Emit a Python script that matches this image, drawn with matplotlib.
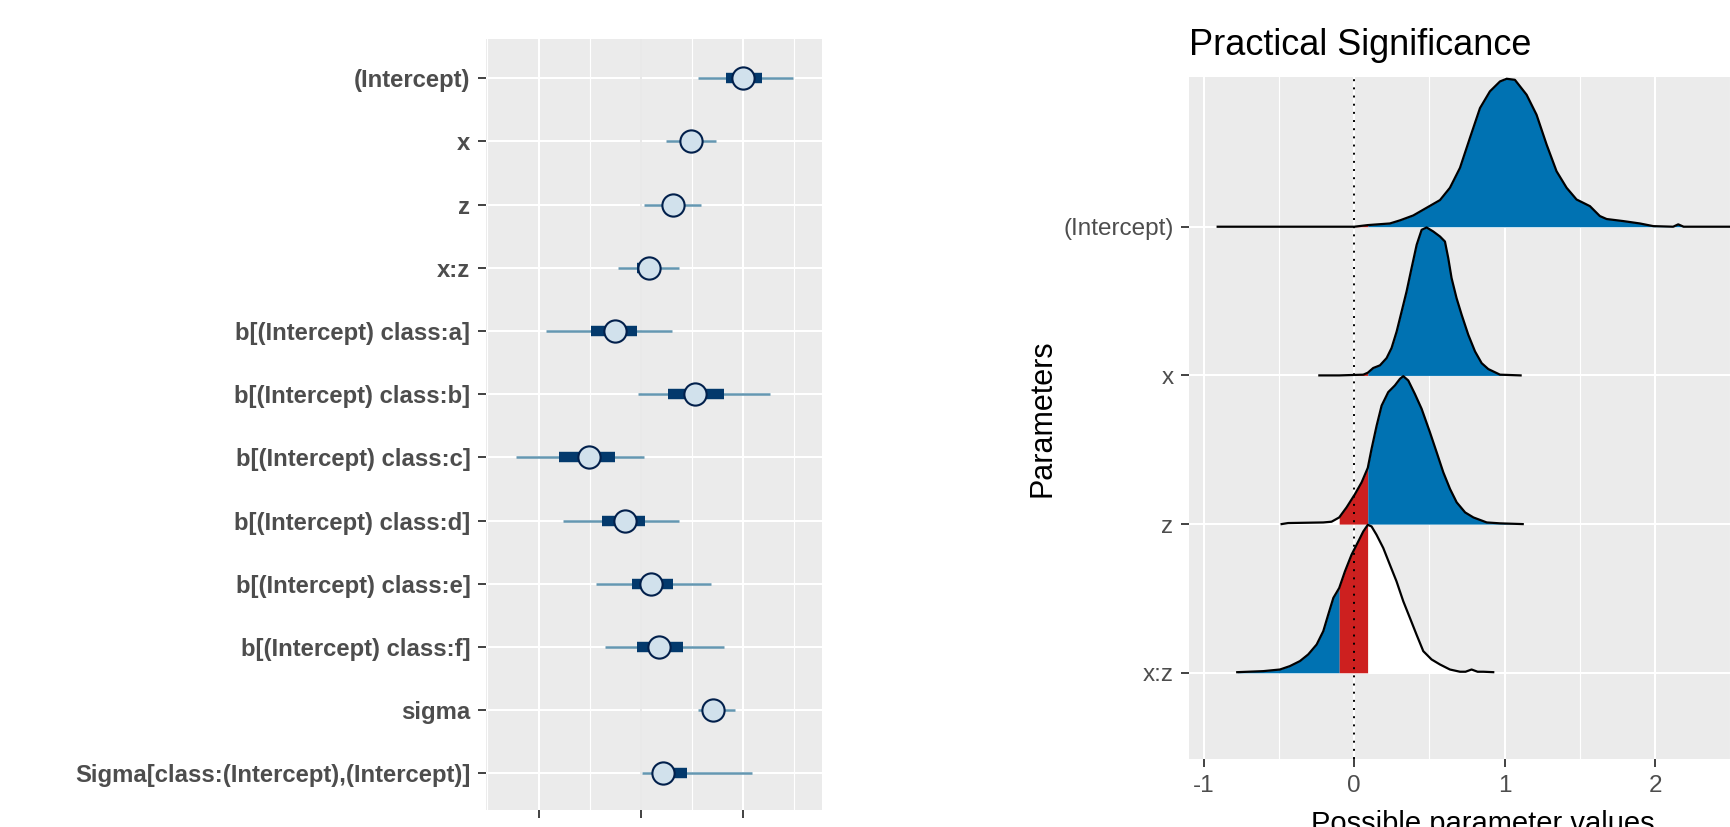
import numpy as np
import matplotlib
matplotlib.use("Agg")
import matplotlib.pyplot as plt

plt.rcParams['font.family'] = ['Liberation Sans', 'DejaVu Sans']

# ---- left panel: posterior intervals (rstanarm / bayesplot style) ----
params = ['(Intercept)', 'x', 'z', 'x:z',
          'b[(Intercept) class:a]', 'b[(Intercept) class:b]',
          'b[(Intercept) class:c]', 'b[(Intercept) class:d]',
          'b[(Intercept) class:e]', 'b[(Intercept) class:f]',
          'sigma', 'Sigma[class:(Intercept),(Intercept)]']
est = [1.005, 0.496, 0.320, 0.085, -0.251, 0.532, -0.502, -0.153, 0.104, 0.183, 0.711, 0.222]
outer_lo = [0.558, 0.245, 0.029, -0.225, -0.93, -0.029, -1.223, -0.757, -0.44, -0.346, 0.561, 0.010]
outer_hi = [1.494, 0.734, 0.594, 0.378, 0.303, 1.262, 0.029, 0.378, 0.691, 0.812, 0.926, 1.086]
inner_lo = [0.832, 0.42, 0.24, -0.04, -0.483, 0.264, -0.796, -0.382, -0.088, -0.033, 0.66, 0.15]
inner_hi = [1.184, 0.57, 0.40, 0.19, -0.033, 0.812, -0.248, 0.046, 0.320, 0.417, 0.77, 0.457]

# ---- right panel: practical significance densities ----
ridge_names = ['(Intercept)', 'x', 'z', 'x:z']
ridge_levels = [4, 3, 2, 1]
rope = (-0.1, 0.09)

int_x = [-0.908, -0.1, 0.0, 0.09, 0.237, 0.304, 0.392, 0.481, 0.570, 0.636, 0.703, 0.769,
         0.836, 0.902, 0.969, 1.013, 1.068, 1.146, 1.212, 1.279, 1.345, 1.412, 1.478, 1.567,
         1.633, 1.678, 1.789, 1.899, 1.988, 2.12, 2.154, 2.19, 2.9]
int_h = [0, 0, 0, 0.011, 0.022, 0.043, 0.076, 0.128, 0.18, 0.263, 0.398, 0.6,
         0.802, 0.915, 0.982, 1.0, 0.993, 0.892, 0.757, 0.555, 0.375, 0.263, 0.184, 0.139,
         0.072, 0.052, 0.038, 0.022, 0.004, 0, 0.016, 0, 0]

x_x = [-0.232, -0.1, 0.06, 0.09, 0.126, 0.171, 0.215, 0.248, 0.282, 0.315, 0.348, 0.381,
       0.415, 0.448, 0.481, 0.525, 0.570, 0.603, 0.625, 0.647, 0.680, 0.714, 0.758, 0.803,
       0.847, 0.891, 0.969, 1.106]
x_h = [0, 0, 0.005, 0.018, 0.05, 0.068, 0.117, 0.185, 0.297, 0.432, 0.568, 0.725,
       0.883, 0.984, 1.0, 0.973, 0.939, 0.905, 0.793, 0.658, 0.523, 0.41, 0.275, 0.162,
       0.083, 0.043, 0.005, 0]

z_x = [-0.483, -0.44, -0.206, -0.151, -0.1, -0.051, 0.005, 0.049, 0.09, 0.115, 0.149, 0.182,
       0.226, 0.270, 0.304, 0.326, 0.359, 0.403, 0.448, 0.503, 0.548, 0.592, 0.637, 0.681,
       0.737, 0.792, 0.881, 0.969, 1.12]
z_h = [0, 0.007, 0.011, 0.016, 0.045, 0.113, 0.203, 0.282, 0.38, 0.508, 0.666, 0.801,
       0.892, 0.937, 0.982, 1.0, 0.971, 0.88, 0.779, 0.621, 0.485, 0.35, 0.237, 0.147,
       0.079, 0.045, 0.011, 0.005, 0]

xz_x = [-0.778, -0.605, -0.494, -0.428, -0.361, -0.306, -0.25, -0.206, -0.173, -0.139, -0.1,
        -0.062, -0.018, 0.027, 0.060, 0.09, 0.115, 0.148, 0.193, 0.237, 0.281, 0.326, 0.370,
        0.414, 0.459, 0.514, 0.570, 0.636, 0.703, 0.740, 0.780, 0.820, 0.858, 0.924]
xz_h = [0.004, 0.011, 0.022, 0.045, 0.079, 0.124, 0.191, 0.281, 0.393, 0.506, 0.573,
        0.685, 0.798, 0.888, 0.955, 1.0, 0.989, 0.933, 0.843, 0.73, 0.618, 0.483, 0.371,
        0.258, 0.146, 0.09, 0.056, 0.022, 0.007, 0.007, 0.022, 0.007, 0.007, 0.004]

ridge_x = [int_x, x_x, z_x, xz_x]
ridge_h = [int_h, x_h, z_h, xz_h]
# fill colour below / inside / above the rope for each ridge
left_fill = ['white', 'white', 'white', '#0072b2']
right_fill = ['#0072b2', '#0072b2', '#0072b2', 'white']
rope_fill = '#cd201f'

BG = '#ebebeb'
TXT = '#4d4d4d'
W, H = 1731, 827
fig = plt.figure(figsize=(W / 100, H / 100), dpi=100)


def frac(left, right, top, bottom):
    return [left / W, (H - bottom) / H, (right - left) / W, (bottom - top) / H]


# ================= left panel =================
ax1 = fig.add_axes(frac(485.7, 822.3, 39.3, 810))
ax1.set_facecolor(BG)
for s in ax1.spines.values():
    s.set_visible(False)
ax1.set_xlim(-1.517, 1.777)
ax1.set_ylim(12.58, 0.383)
ypos = np.arange(1, len(params) + 1)
ax1.set_xticks([-1, 0, 1])
ax1.set_xticklabels(['', '', ''])
ax1.set_xticks([-1.5, -0.5, 0.5, 1.5], minor=True)
ax1.set_yticks(ypos)
ax1.set_yticklabels(params, fontsize=17.2, fontweight='bold', color=TXT)
ax1.tick_params(axis='both', which='major', length=6, width=1.3, color='#333333', pad=5)
ax1.tick_params(axis='x', which='minor', length=0)
ax1.grid(True, which='major', color='white', lw=1.5)
ax1.grid(True, which='minor', axis='x', color='white', lw=0.8)
ax1.set_axisbelow(True)
ax1.axvline(0, color='#e5e5e5', lw=1.2, zorder=1)
ax1.hlines(ypos, outer_lo, outer_hi, color='#6497b1', lw=1.8, zorder=2)
ax1.hlines(ypos, inner_lo, inner_hi, color='#03396c', lw=7.5, zorder=3, capstyle='butt')
ax1.plot(est, ypos, 'o', ms=16, mfc='#d1e1ec', mec='#011f4b', mew=1.5, zorder=4, ls='none')

# ================= right panel =================
ax2 = fig.add_axes(frac(1188.8, 1776.6, 76.7, 759.3))
ax2.set_facecolor(BG)
for s in ax2.spines.values():
    s.set_visible(False)
ax2.set_xlim(-1.10, 2.808)
ax2.set_ylim(0.418, 5.009)
ax2.set_xticks([-1, 0, 1, 2])
ax2.set_xticklabels(['-1', '0', '1', '2'], fontsize=17.5, color=TXT)
ax2.set_xticks([-0.5, 0.5, 1.5, 2.5], minor=True)
ax2.set_yticks(ridge_levels)
ax2.set_yticklabels(ridge_names, fontsize=17.5, color=TXT)
ax2.tick_params(axis='both', which='major', length=6, width=1.3, color='#333333', pad=5)
ax2.tick_params(axis='x', which='minor', length=0)
ax2.grid(True, which='major', color='white', lw=1.5)
ax2.grid(True, which='minor', axis='x', color='white', lw=0.8)
ax2.set_axisbelow(True)

for i, (xs, hs, lev) in enumerate(zip(ridge_x, ridge_h, ridge_levels)):
    xs = np.array(xs)
    ys = lev + 0.995 * np.array(hs)
    z0 = 3 + i * 2
    eps = 1e-9
    m_left = xs <= rope[0] + eps
    m_rope = (xs >= rope[0] - eps) & (xs <= rope[1] + eps)
    m_right = xs >= rope[1] - eps
    ax2.fill_between(xs, lev, ys, where=m_left, color=left_fill[i], lw=0, zorder=z0)
    ax2.fill_between(xs, lev, ys, where=m_rope, color=rope_fill, lw=0, zorder=z0)
    ax2.fill_between(xs, lev, ys, where=m_right, color=right_fill[i], lw=0, zorder=z0)
    ax2.plot(xs, ys, color='black', lw=1.6, zorder=z0 + 1)

ax2.axvline(0, color='black', lw=1.4, ls=(0, (1, 3.2)), zorder=20)

ax2.text(0, 1 + (76.7 - 55) / 682.6, 'Practical Significance', transform=ax2.transAxes,
         fontsize=26, ha='left', va='baseline', color='black')
ax2.set_ylabel('Parameters', fontsize=22, va='center')
ax2.yaxis.set_label_coords((1043 - 1188.8) / 587.8, 0.5)
ax2.set_xlabel('Possible parameter values', fontsize=21, va='top')
ax2.xaxis.set_label_coords(0.5, (759.3 - 810) / 682.6)

fig.savefig('out.png', dpi=100)
